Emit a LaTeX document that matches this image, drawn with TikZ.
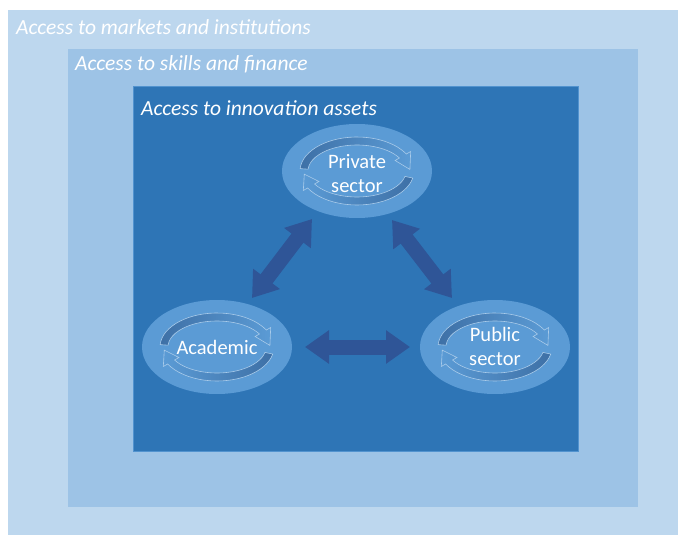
\documentclass[tikz,border=0pt]{standalone}
\usepackage{fontspec}
\setmainfont{Carlito}
\usetikzlibrary{shapes.geometric,arrows.meta,calc}
\definecolor{outerc}{HTML}{BDD7EE}
\definecolor{midc}{HTML}{9DC3E6}
\definecolor{innerc}{HTML}{2E75B6}
\definecolor{ellc}{HTML}{5B9BD5}
\definecolor{arrc}{HTML}{2F5597}
\definecolor{bandc}{HTML}{3E70A6}
\definecolor{bandl}{HTML}{A9CBEA}
\newcommand{\cyclearrows}[1]{%
  \begin{scope}[shift={(#1)}]
    \path[band, left color=bandc, right color=ellc]
      (176:57 and 34) arc[start angle=176,end angle=30,x radius=57,y radius=34]
      -- (30:62 and 39) -- (3:53 and 30) -- (30:44 and 21) -- (30:49 and 26)
      arc[start angle=30,end angle=176,x radius=49,y radius=26] -- cycle;
    \path[band, right color=bandc, left color=ellc]
      (-12:57 and 34) arc[start angle=-12,end angle=-150,x radius=57,y radius=34]
      -- (-150:62 and 39) -- (-174:53 and 30) -- (-150:44 and 21) -- (-150:49 and 26)
      arc[start angle=-150,end angle=-12,x radius=49,y radius=26] -- cycle;
  \end{scope}}
\begin{document}
\begin{tikzpicture}[x=1pt,y=1pt,
  actor/.style={ellipse, fill=ellc, minimum width=150pt, minimum height=94pt,
    inner sep=0pt, text=white, font=\fontsize{20.5}{24}\selectfont, align=center},
  framelabel/.style={anchor=base west, text=white,
    font=\fontsize{21.5}{24}\selectfont\itshape, inner sep=0pt},
  link/.style={draw=arrc, line width=15pt,
    {Triangle[width=32pt,length=24pt]}-{Triangle[width=32pt,length=24pt]}},
  band/.style={draw=bandl, line width=0.6pt}]
  \useasboundingbox (0,0) rectangle (678,-535);
  \fill[white] (0,0) rectangle (678,-535);
  \fill[outerc] (8,-10) rectangle (678,-535);
  \fill[midc] (68,-49) rectangle (638,-507);
  \filldraw[fill=innerc, draw=ellc!80!innerc, line width=0.6pt] (133,-86) rectangle (578,-451);
  \node[framelabel] (lmarkets) at (16,-35) {Access to markets and institutions};
  \node[framelabel] (lskills) at (75,-71) {Access to skills and finance};
  \node[framelabel] (linnov) at (141,-116) {Access to innovation assets};

  \node[actor, fill=ellc] (privbg) at (357,-171) {};
  \node[actor, fill=ellc] (acadbg) at (217,-347) {};
  \node[actor, fill=ellc] (pubbg) at (495,-347) {};
  \cyclearrows{privbg}
  \cyclearrows{acadbg}
  \cyclearrows{pubbg}
  \node[actor, fill=none] (priv) at (357,-174) {Private\\sector};
  \node[actor, fill=none] (acad) at (217,-347) {Academic};
  \node[actor, fill=none] (pub) at (495,-346) {Public\\sector};

  \coordinate (l1) at (252,-298);
  \coordinate (l2) at (312,-219);
  \coordinate (r1) at (392,-220);
  \coordinate (r2) at (452,-298);
  \coordinate (h1) at (305,-347);
  \coordinate (h2) at (410,-347);
  \draw[link] (l1) -- (l2);
  \draw[link] (r1) -- (r2);
  \draw[link] (h1) -- (h2);
\end{tikzpicture}
\end{document}
